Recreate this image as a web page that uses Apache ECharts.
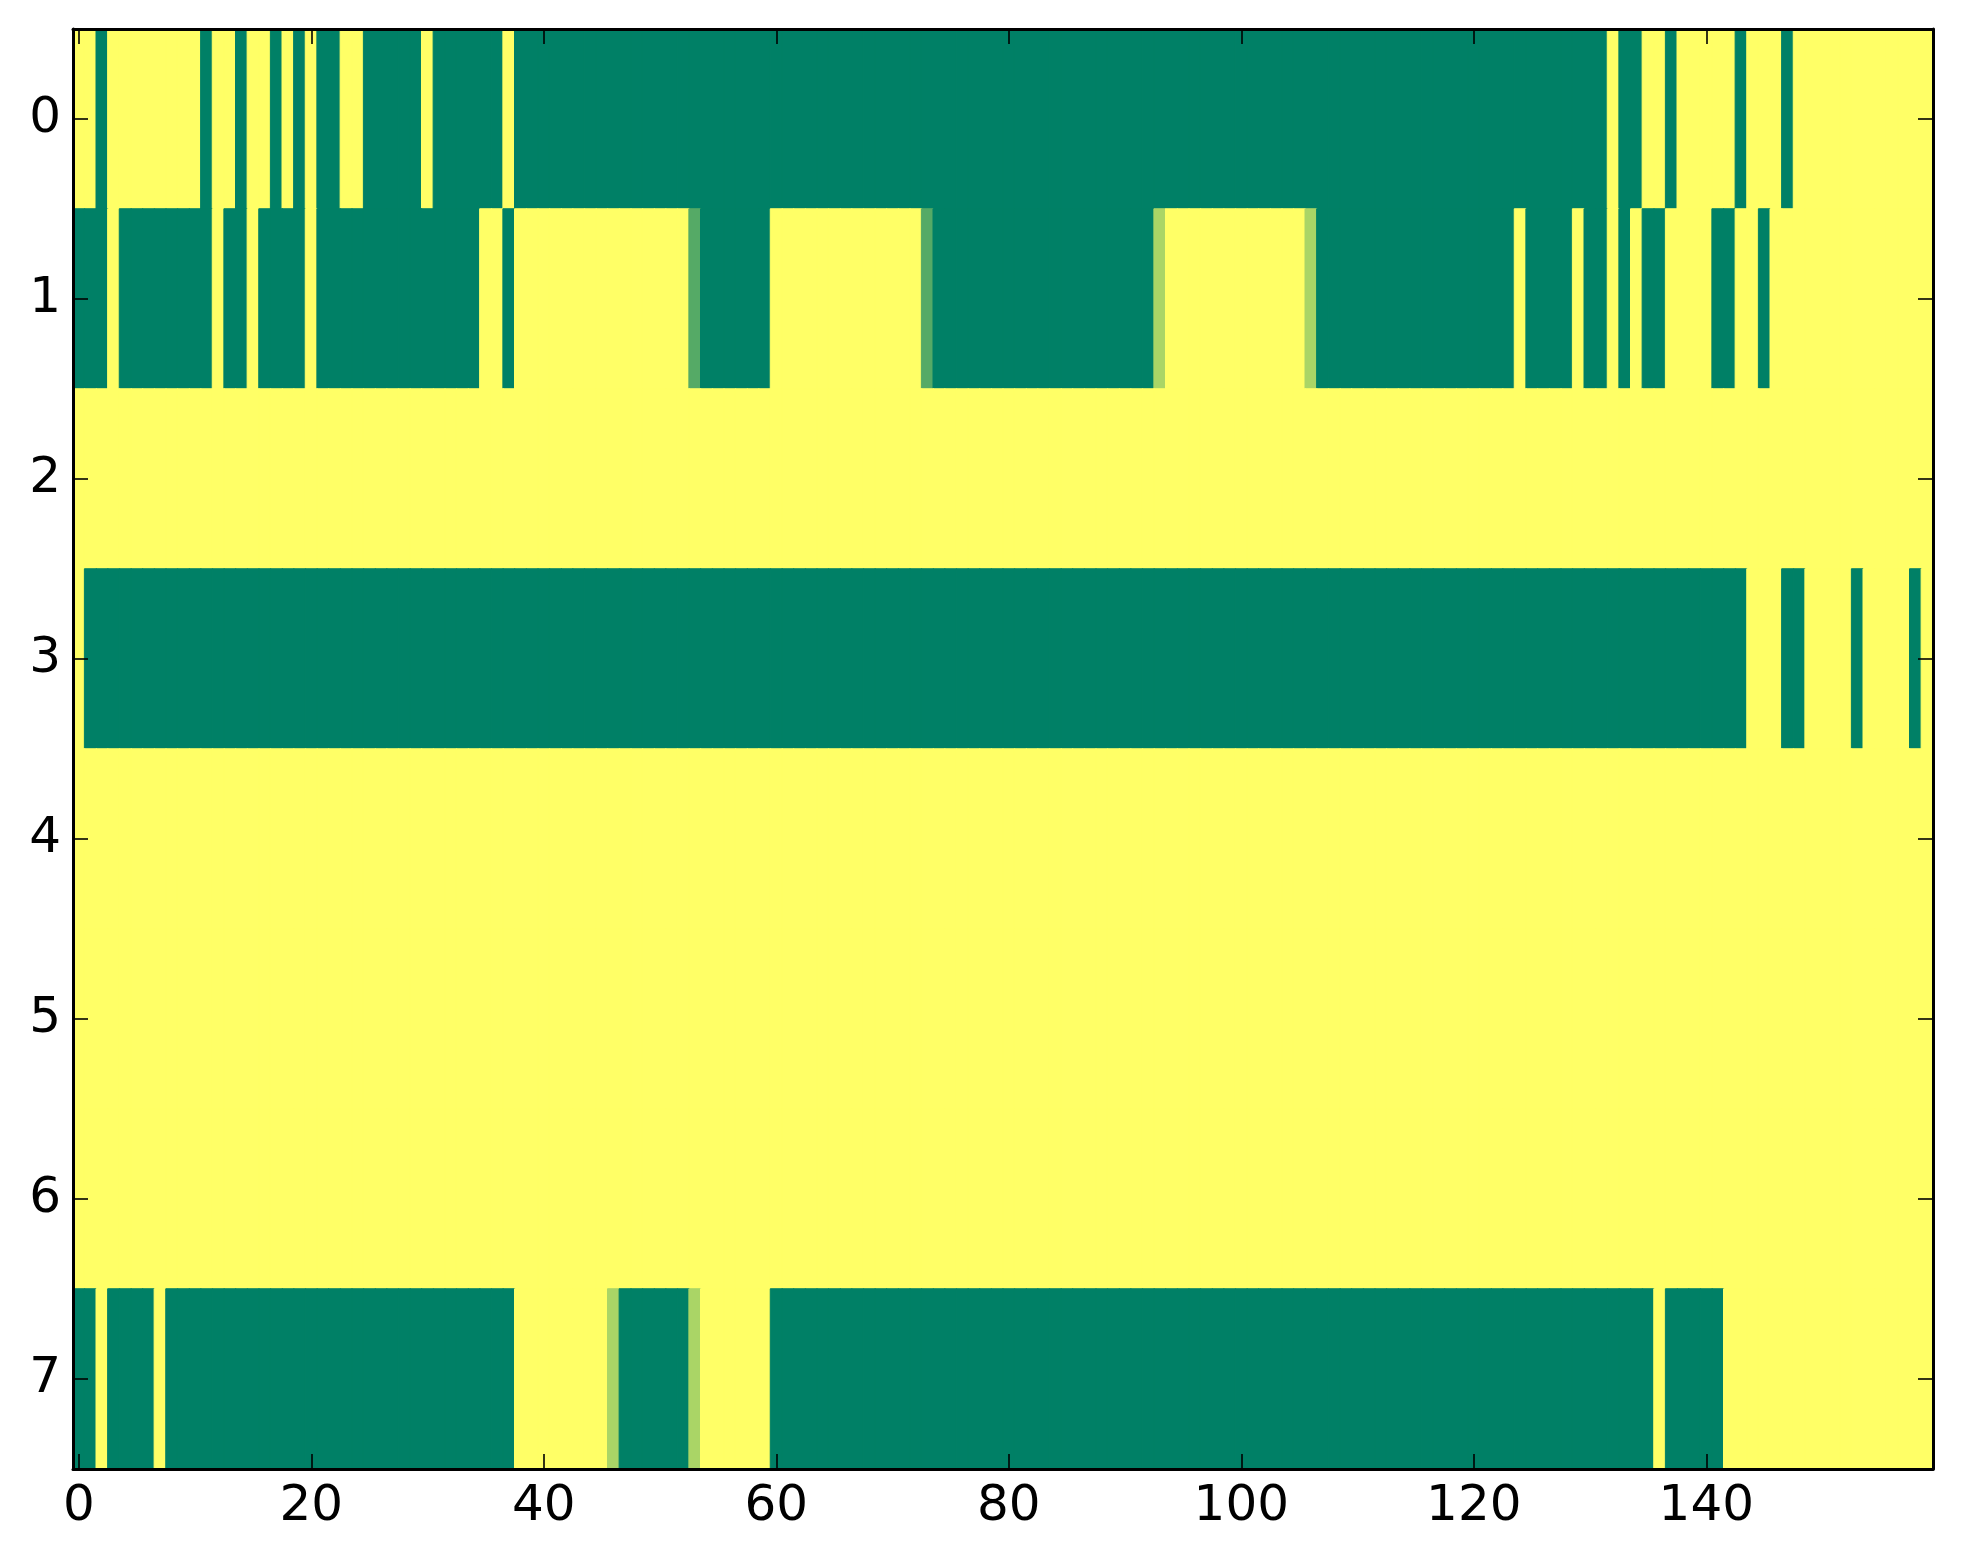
<!DOCTYPE html>
<html>
<head>
<meta charset="utf-8">
<title>heatmap</title>
<script src="https://cdn.jsdelivr.net/npm/echarts@6/dist/echarts.min.js"></script>
<style>
	html, body { margin: 0; padding: 0; background: #ffffff; }
	#chart { width: 1963px; height: 1564px; }
</style>
</head>
<body>
<div id="chart"></div>
<script>
// 行标签（y轴，从上到下）
const ROW_LABELS = ['0', '1', '2', '3', '4', '5', '6', '7'];
// 列数（x轴 0..159）
const COL_COUNT = 160;
const X_LABEL_STEP = 20;

// 每行按 [值, 连续格数] 从左到右读出来的数据
const ROW_0 = [[1,2],[0,1],[1,8],[0,1],[1,2],[0,1],[1,2],[0,1],[1,1],[0,1],[1,1],[0,2],[1,2],[0,5],[1,1],[0,6],[1,1],
	[0,94],[1,1],[0,2],[1,2],[0,1],[1,5],[0,1],[1,3],[0,1],[1,12]];
const ROW_1 = [[0,3],[1,1],[0,8],[1,1],[0,2],[1,1],[0,4],[1,1],[0,14],[1,2],[0,1],[1,15],[0.333,1],[0,6],[1,13],[0.333,1],
	[0,19],[0.667,1],[1,12],[0.667,1],[0,17],[1,1],[0,4],[1,1],[0,2],[1,1],[0,1],[1,1],[0,2],[1,4],[0,2],[1,2],[0,1],[1,14]];
const ROW_2 = [[1,160]];
const ROW_3 = [[1,1],[0,143],[1,3],[0,2],[1,4],[0,1],[1,4],[0,1],[1,1]];
const ROW_4 = [[1,160]];
const ROW_5 = [[1,160]];
const ROW_6 = [[1,160]];
const ROW_7 = [[0,2],[1,1],[0,4],[1,1],[0,30],[1,8],[0.667,1],[0,6],[0.667,1],[1,6],[0,76],[1,1],[0,5],[1,18]];

const ROWS = [ROW_0, ROW_1, ROW_2, ROW_3, ROW_4, ROW_5, ROW_6, ROW_7];

// summer 色带两端
const COLOR_RANGE = ['#008066', '#ffff66'];

/**
 * 把 [值, 格数] 展开成一整行
 * @param {Array} runs
 */
function expandRow(runs){
	let out = [];
	runs.forEach(function(r){
		for(let k = 0; k < r[1]; k++){
			out.push(r[0]);
		}
	});
	return out;
}

let colLabels = [];
for(let i = 0; i < COL_COUNT; i++){
	colLabels.push(String(i));
}

// 每格自己带颜色和同色描边，避免相邻格之间出现细缝
let cells = [];
ROWS.forEach(function(runs, y){
	let row = expandRow(runs);
	row.forEach(function(v, x){
		let c = echarts.color.lerp(v, COLOR_RANGE);
		cells.push({
			value: [x, y, v],
			itemStyle: { color: c, borderColor: c, borderWidth: 1 }
		});
	});
});

function everyStep(index){
	return index % X_LABEL_STEP === 0;
}

const FONT = {
	fontFamily: 'DejaVu Sans',
	fontSize: 50,
	color: '#000000'
};
const LINE = { color: '#000000', width: 3 };
const TICK = { show: true, inside: true, length: 15, alignWithLabel: true, lineStyle: { color: '#000000', width: 1.6 } };

let chart = echarts.init(document.getElementById('chart'), null, { renderer: 'canvas' });

let option = {
	animation: false,
	backgroundColor: '#ffffff',
	grid: {
		left: 73,
		right: 30,
		top: 29,
		bottom: 95,
		containLabel: false
	},
	xAxis: [{
		type: 'category',
		position: 'bottom',
		data: colLabels,
		z: 10,
		axisLine: { show: true, onZero: false, lineStyle: LINE },
		axisTick: Object.assign({ interval: everyStep }, TICK),
		axisLabel: Object.assign({ interval: everyStep, margin: 13 }, FONT),
		splitLine: { show: false }
	}, {
		type: 'category',
		position: 'top',
		data: colLabels,
		z: 10,
		axisLine: { show: true, onZero: false, lineStyle: LINE },
		axisTick: Object.assign({ interval: everyStep }, TICK),
		axisLabel: { show: false },
		splitLine: { show: false }
	}],
	yAxis: [{
		type: 'category',
		position: 'left',
		inverse: true,
		data: ROW_LABELS,
		z: 10,
		axisLine: { show: true, onZero: false, lineStyle: LINE },
		axisTick: Object.assign({ interval: 0 }, TICK),
		axisLabel: Object.assign({ interval: 0, margin: 12 }, FONT),
		splitLine: { show: false }
	}, {
		type: 'category',
		position: 'right',
		inverse: true,
		data: ROW_LABELS,
		z: 10,
		axisLine: { show: true, onZero: false, lineStyle: LINE },
		axisTick: Object.assign({ interval: 0 }, TICK),
		axisLabel: { show: false },
		splitLine: { show: false }
	}],
	series: [{
		type: 'heatmap',
		xAxisIndex: 0,
		yAxisIndex: 0,
		data: cells,
		progressive: 0,
		emphasis: { disabled: true }
	}]
};

chart.setOption(option);
</script>
</body>
</html>
